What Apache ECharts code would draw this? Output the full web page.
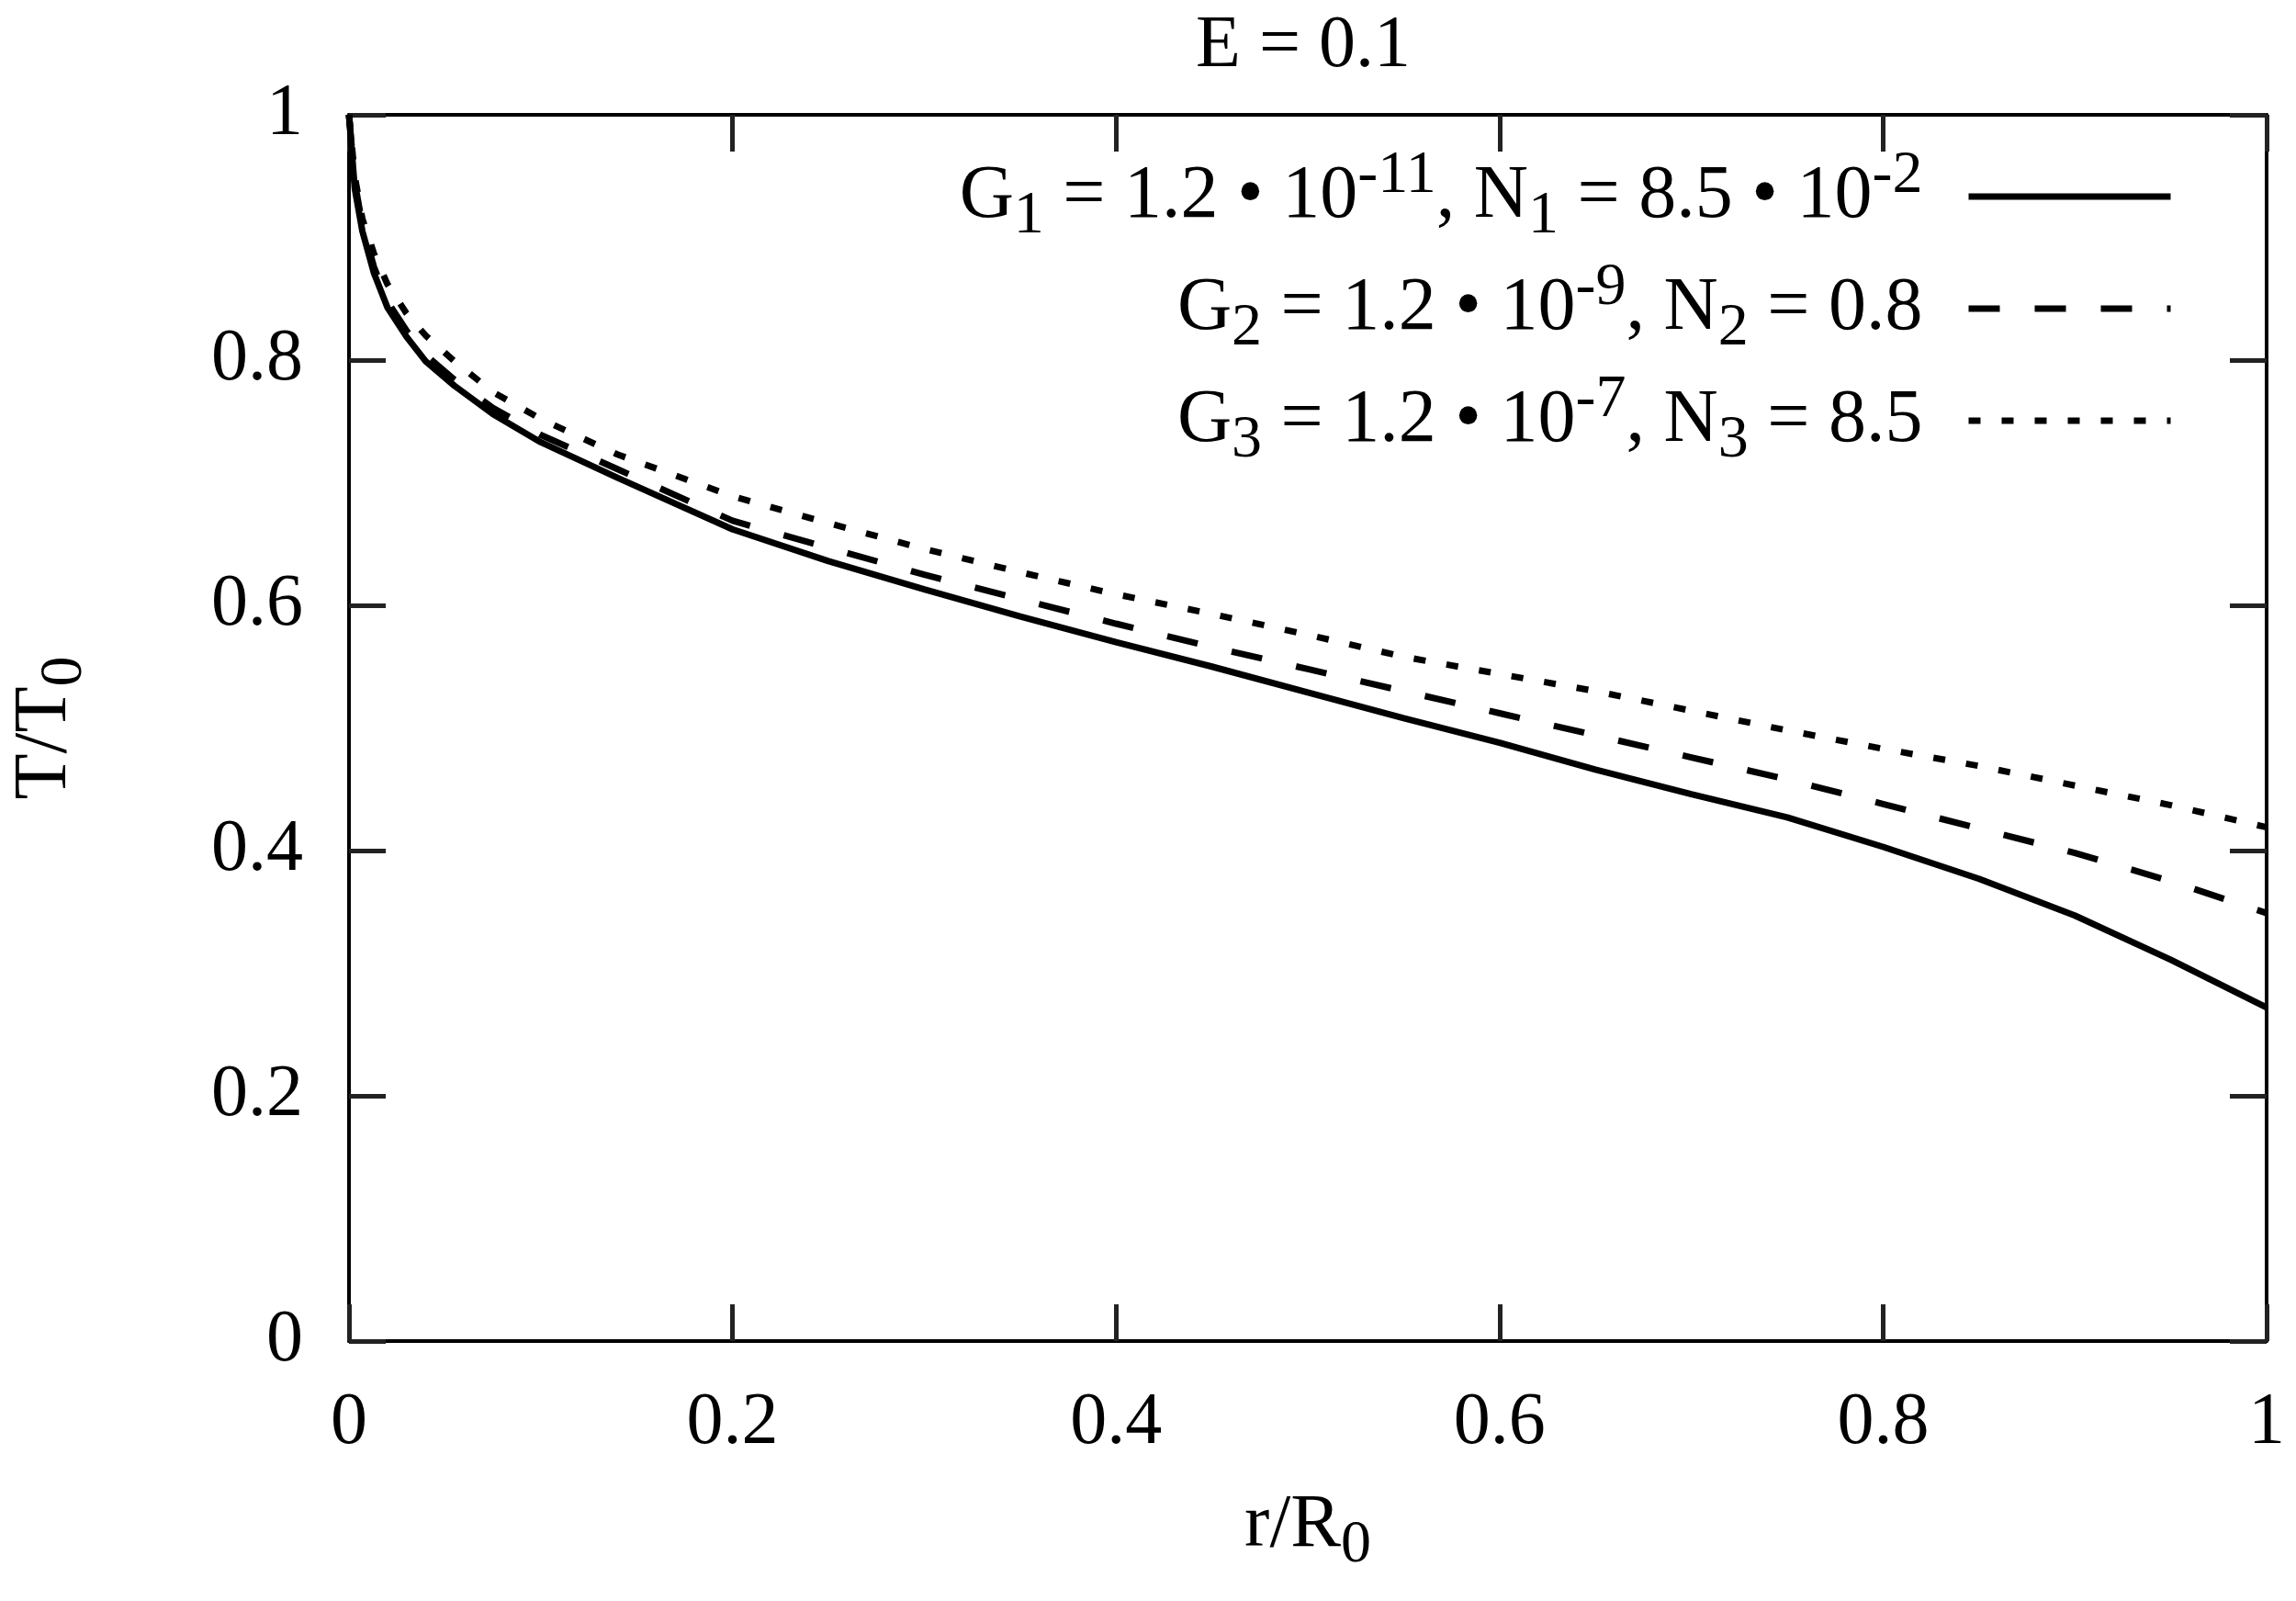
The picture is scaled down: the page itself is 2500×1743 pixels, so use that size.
<!DOCTYPE html>
<html lang="en">
<head>
    <meta charset="UTF-8">
    <title>T/T0 vs r/R0</title>
    <script type="text/javascript" src="https://cdn.jsdelivr.net/npm/echarts@6/dist/echarts.min.js"></script>
    <style>
        html, body { margin: 0; padding: 0; background: #fff; }
    </style>
</head>
<body>
<div id="main" style="width: 2500px;height:1743px;"></div>

<script type="text/javascript">
    // r/R0 sample points (denser near 0, where the curves drop fast)
    var rVals = [0, 0.003, 0.007, 0.013, 0.02, 0.03, 0.04, 0.055, 0.075, 0.1, 0.14,
        0.2, 0.25, 0.3, 0.35, 0.4, 0.45, 0.5, 0.55, 0.6, 0.65, 0.7, 0.75, 0.8, 0.85, 0.9, 0.95, 1.0];

    // T/T0
    var g1Vals = [1.0, 0.94, 0.905, 0.871, 0.843, 0.819, 0.799, 0.779, 0.756, 0.733, 0.704,
        0.662, 0.636, 0.613, 0.591, 0.570, 0.550, 0.529, 0.508, 0.488, 0.466, 0.446, 0.427, 0.403, 0.377, 0.347, 0.311, 0.272];
    var g2Vals = [1.0, 0.945, 0.91, 0.876, 0.848, 0.824, 0.804, 0.784, 0.761, 0.739, 0.711,
        0.669, 0.647, 0.625, 0.605, 0.585, 0.566, 0.548, 0.530, 0.512, 0.494, 0.476, 0.458, 0.438, 0.418, 0.398, 0.375, 0.349];
    var g3Vals = [1.0, 0.95, 0.915, 0.887, 0.862, 0.838, 0.82, 0.799, 0.774, 0.752, 0.723,
        0.689, 0.667, 0.646, 0.627, 0.609, 0.593, 0.576, 0.558, 0.544, 0.530, 0.514, 0.498, 0.483, 0.469, 0.453, 0.437, 0.419];

    var seriesNames = ['G1', 'G2', 'G3'];
    var legendLabels = [
        '{m|G}{s|1}{m| = 1.2 • 10}{p|-11}{m|, N}{s|1}{m| = 8.5 • 10}{p|-2}{g| }',
        '{m|G}{s|2}{m| = 1.2 • 10}{p|-9}{m|, N}{s|2}{m| = 0.8}{g| }',
        '{m|G}{s|3}{m| = 1.2 • 10}{p|-7}{m|, N}{s|3}{m| = 8.5}{g| }'
    ];
    var tickLabels = ['0', '0.2', '0.4', '0.6', '0.8', '1'];

    function pairs(ys) {
        return rVals.map(function (r, i) { return [r, ys[i]]; });
    }

    var FONT = 'Liberation Serif';
    var rich = {
        m: {fontFamily: FONT, fontSize: 82, lineHeight: 110, color: '#000'},
        s: {fontFamily: FONT, fontSize: 66, lineHeight: 50, verticalAlign: 'bottom', color: '#000'},
        p: {fontFamily: FONT, fontSize: 66, lineHeight: 45, verticalAlign: 'top', color: '#000'},
        g: {fontFamily: FONT, fontSize: 82, lineHeight: 110, width: 45}
    };

    var myChart = echarts.init(document.getElementById('main'));

    // frame: four axes, ticks pointing into the plot
    function frameAxis(pos, withLabels) {
        var a = {
            type: 'value', min: 0, max: 1, interval: 0.2, position: pos,
            axisLine: {show: true, onZero: false, lineStyle: {color: '#000', width: 4}},
            axisTick: {show: true, inside: true, length: 40, lineStyle: {color: '#222', width: 5}},
            splitLine: {show: false},
            axisLabel: {show: false}
        };
        if (withLabels) {
            a.axisLabel = {
                show: true, fontFamily: FONT, fontSize: 80, color: '#000', margin: 50,
                formatter: function (v) { return tickLabels[Math.round(v / 0.2)]; }
            };
        }
        return a;
    }

    var xBottom = frameAxis('bottom', true);
    xBottom.name = '{m|r/R}{s|0}';
    xBottom.nameLocation = 'middle';
    xBottom.nameGap = 146;
    xBottom.nameTextStyle = {rich: rich};

    var yLeft = frameAxis('left', true);
    yLeft.name = '{m|T/T}{s|0}';
    yLeft.nameLocation = 'middle';
    yLeft.nameGap = 276;
    yLeft.nameTextStyle = {rich: rich};

    var option = {
        animation: false,
        backgroundColor: '#fff',
        title: {
            text: 'E = 0.1', left: 1414, textAlign: 'center', top: 6,
            textStyle: {fontFamily: FONT, fontSize: 80, fontWeight: 'normal', color: '#000'}
        },
        grid: {left: 376, right: 32, top: 125, bottom: 283},
        legend: {
            orient: 'vertical', align: 'right', right: 128, top: 154,
            itemGap: 12, itemWidth: 220, itemHeight: 20,
            data: seriesNames,
            formatter: function (name) { return legendLabels[seriesNames.indexOf(name)]; },
            itemStyle: {color: 'rgba(0,0,0,0)', borderWidth: 0, opacity: 0},
            lineStyle: {width: 7, color: '#000'},
            textStyle: {rich: rich}
        },
        xAxis: [xBottom, frameAxis('top', false)],
        yAxis: [yLeft, frameAxis('right', false)],
        series: [
            {name: 'G1', type: 'line', symbol: 'none', lineStyle: {color: '#000', width: 7, type: 'solid'}, itemStyle: {color: '#000'}, data: pairs(g1Vals)},
            {name: 'G2', type: 'line', symbol: 'none', lineStyle: {color: '#000', width: 7, type: [34, 38]}, itemStyle: {color: '#000'}, data: pairs(g2Vals)},
            {name: 'G3', type: 'line', symbol: 'none', lineStyle: {color: '#000', width: 7, type: [13, 23]}, itemStyle: {color: '#000'}, data: pairs(g3Vals)}
        ]
    };

    myChart.setOption(option);
</script>
</body>
</html>
